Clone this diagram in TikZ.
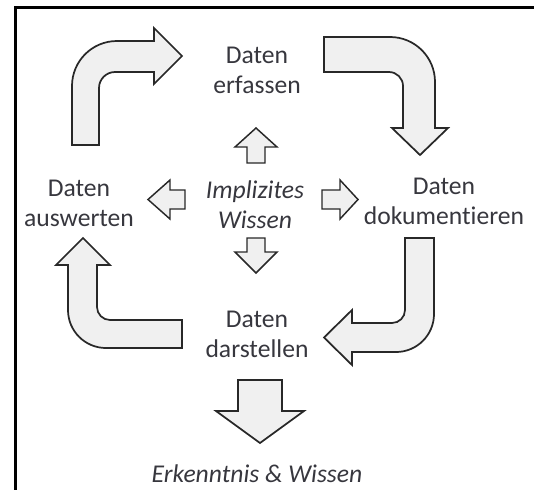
\documentclass[tikz,border=0pt]{standalone}
\usepackage{fontspec}
\setmainfont{Carlito}[Ligatures=NoCommon]
\definecolor{arrowfill}{RGB}{240,240,240}
\definecolor{arrowline}{RGB}{40,40,40}
\definecolor{textcol}{RGB}{55,55,62}
\begin{document}
\begin{tikzpicture}[x=0.75pt,y=-0.75pt,
  blockarrow/.style={fill=arrowfill,draw=arrowline,line width=1.3pt,line join=miter},
  smallarrow/.style={fill=arrowfill,draw=arrowline,line width=1.1pt,line join=miter},
  frameline/.style={draw=black,line width=1.9pt},
  lbl/.style={text=textcol,align=center,inner sep=0pt,font=\fontsize{19.2}{22.5}\selectfont},
  ilbl/.style={lbl,font=\fontsize{19.2}{22.5}\selectfont\itshape}]
\useasboundingbox (0,0) rectangle (534,490);
% frame
\draw[frameline] (534,7.5) -- (15.5,7.5) -- (15.5,490);
% top-left bent arrow
\draw[blockarrow] (72,145) -- (72,86) .. controls (72,61.1) and (92.1,41) .. (117,41)
  -- (154,41) -- (154,28) -- (182,56) -- (154,84) -- (154,72) -- (115,72)
  .. controls (106.2,72) and (99,79.2) .. (99,88) -- (99,145) -- cycle;
% top-right bent arrow
\draw[blockarrow] (324,37) -- (390,37) .. controls (414.9,37) and (435,57.1) .. (435,82)
  -- (435,128) -- (448,128) -- (420,155) -- (392,128) -- (403,128) -- (403,86)
  .. controls (403,78.3) and (396.7,72) .. (389,72) -- (324,72) -- cycle;
% bottom-right bent arrow
\draw[blockarrow] (405,238) -- (434,238) -- (434,314) .. controls (434,335) and (417,352) .. (396,352)
  -- (352,352) -- (352,365) -- (324,337.5) -- (352,310) -- (352,323) -- (392,323)
  .. controls (399.2,323) and (405,317.2) .. (405,310) -- cycle;
% bottom-left bent arrow
\draw[blockarrow] (182,320) -- (110,320) .. controls (102.8,320) and (97,314.2) .. (97,307)
  -- (97,265) -- (110,265) -- (83,238) -- (56,265) -- (68,265) -- (68,310)
  .. controls (68,331) and (85,348) .. (106,348) -- (182,348) -- cycle;
% small arrows around centre
\draw[smallarrow] (256,128) -- (277,147) -- (265,147) -- (265,163) -- (247,163) -- (247,147) -- (235,147) -- cycle;
\draw[smallarrow] (256,273) -- (277,252) -- (265,252) -- (265,238) -- (247,238) -- (247,252) -- (235,252) -- cycle;
\draw[smallarrow] (148,199.5) -- (170,180) -- (170,190) -- (185,190) -- (185,209) -- (170,209) -- (170,219) -- cycle;
\draw[smallarrow] (358,199.5) -- (340,180) -- (340,190) -- (322,190) -- (322,209) -- (340,209) -- (340,219) -- cycle;
% big down arrow
\draw[blockarrow] (238,380) -- (282,380) -- (282,411) -- (304,411) -- (260,443) -- (216,411) -- (238,411) -- cycle;
% labels
\node[lbl] (erf) at (257,70) {Daten\\erfassen};
\node[lbl] (dok) at (444,201) {Daten\\dokumentieren};
\node[lbl] (ausw) at (79,203) {Daten\\auswerten};
\node[ilbl] (impl) at (255,205) {Implizites\\Wissen};
\node[lbl] (darst) at (257,334) {Daten\\darstellen};
\node[ilbl] (erk) at (257,474) {Erkenntnis \& Wissen};
\end{tikzpicture}
\end{document}
